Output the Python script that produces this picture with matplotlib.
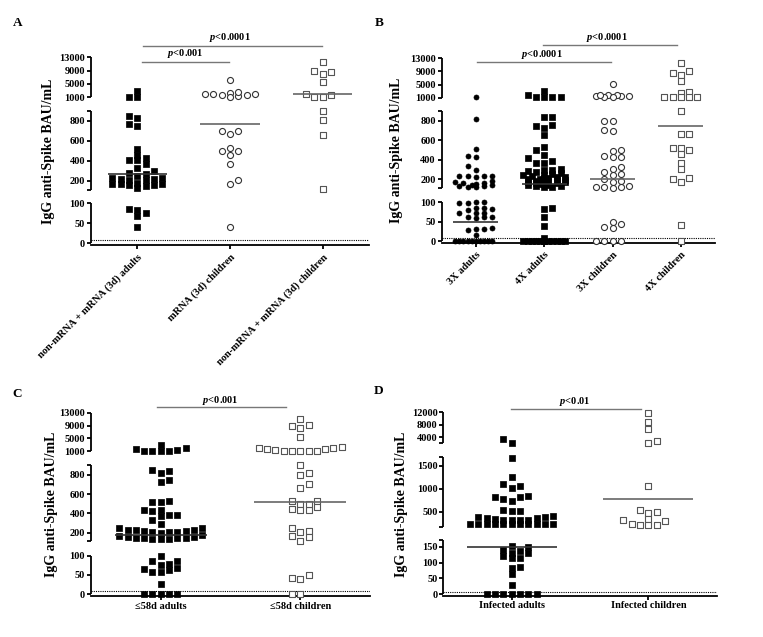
import numpy as np
import matplotlib.pyplot as plt

plt.rcParams['font.family'] = ['Liberation Serif', 'DejaVu Serif']
plt.rcParams['font.weight'] = 'bold'
plt.rcParams['mathtext.fontset'] = 'custom'
plt.rcParams['mathtext.it'] = 'Liberation Serif:italic:bold'
plt.rcParams['mathtext.rm'] = 'Liberation Serif:bold'

W, H = 763, 637

# -----------------------------
# Data (IgG anti-Spike, BAU/mL)
# -----------------------------
a_groups = ['non-mRNA + mRNA (3d) adults', 'mRNA (3d) children', 'non-mRNA + mRNA (3d) children']
a_adults = [2900, 1000, 1000, 850, 825, 765, 745, 520, 460, 425, 410, 405, 365, 330, 295, 280,
            270, 245, 230, 225, 220, 215, 210, 205, 175, 170, 165, 165, 160, 160, 150, 125,
            85, 82, 75, 67, 40]
a_mrna_children = [6000, 2000, 1500, 1300, 2200, 1100, 2600, 1500, 1800, 2000,
                   700, 665, 695, 525, 495, 455, 500, 365, 205, 165, 40]
a_mixed_children = [11500, 9000, 8000, 8700, 5400, 1500, 1100, 1100, 1800, 900, 810, 655, 120]
a_medians = [267, 767, 1900]

b_groups = ['3X adults', '4X adults', '3X children', '4X children']
b_3x_adults = [1100, 815, 510, 430, 435, 335, 290, 230, 220, 235, 235, 230,
               185, 170, 160, 156, 150, 140, 135, 130, 125, 120, 115,
               98, 100, 97, 100, 85, 80, 83, 85, 72, 72, 72, 63, 62, 60, 63,
               32, 33, 31, 30, 16, 0, 0, 0, 0, 0, 0, 0, 0, 0, 0]
b_4x_adults = [3100, 1300, 1200, 1200, 1800, 1100, 840, 835, 760, 745, 730, 650, 530, 500,
               450, 420, 385, 370, 365, 300, 295, 290, 285, 270, 260, 250, 245, 240, 235,
               225, 220, 215, 210, 205, 200, 195, 190, 185, 180, 175, 170, 165, 160, 155,
               150, 145, 140, 135, 130, 125, 120, 115, 85, 82, 63, 40, 8,
               0, 0, 0, 0, 0, 0, 0, 0, 0, 0, 0, 0, 0, 0]
b_3x_children = [5300, 1800, 1500, 1400, 1800, 1300, 1600, 1900, 1200, 800, 797, 700, 697,
                 490, 430, 430, 440, 495, 320, 300, 275, 250, 240, 200, 185, 165,
                 125, 118, 112, 115, 122, 50, 36, 35, 44, 0, 0, 0, 0]
b_4x_children = [11500, 8600, 9200, 7900, 6200, 2300, 2600, 1300, 1300, 1100, 1300, 1300,
                 900, 660, 660, 520, 455, 500, 520, 370, 300, 210, 165, 205, 42, 0]
b_medians = [50, 149, 197, 742]

c_groups = ['\u226458d adults', '\u226458d children']
c_adults = [3000, 1700, 1200, 1000, 1000, 1100, 1500, 2000,
            840, 850, 820, 750, 725, 530, 515, 520, 435, 420, 380, 385, 375, 430, 335, 290,
            245, 230, 225, 215, 210, 205, 200, 210, 215, 225, 250,
            165, 160, 150, 140, 135, 130, 135, 140, 150, 155, 175,
            78, 87, 86, 99, 67, 63, 57, 59, 65, 76, 26, 0, 0, 0, 0, 0]
c_children = [11000, 8900, 8100, 9200, 5400, 2400, 1900, 1600, 1200, 1100, 1100, 1100, 1200,
              1400, 1800, 1900, 900, 815, 800, 660, 700, 530, 530, 495, 465, 440, 430, 435,
              500, 245, 220, 210, 165, 160, 115, 50, 43, 40, 0, 0]
c_medians = [172, 515]

d_groups = ['Infected adults', 'Infected children']
d_adults = [3200, 2200, 1670, 1260, 1100, 1010, 1060, 830, 770, 735, 815, 850, 540, 520, 520,
            390, 370, 360, 350, 380, 400, 320, 310, 320, 310,
            225, 225, 225, 225, 225, 225, 225, 225, 225, 225, 225,
            135, 130, 115, 152, 113, 148, 122, 131, 140, 87, 84, 64, 29, 0, 0, 0, 0, 0, 0, 0]
d_children = [11700, 8800, 6500, 2600, 2200, 1060, 500, 465, 537, 330, 300, 215, 200, 215, 235, 310]
d_medians = [148, 785]

# -----------------------------
# Broken y-axis helpers
# -----------------------------
def piecewise(vals, us):
    v = np.asarray(vals, float)
    u = np.asarray(us, float)
    s0 = (u[1] - u[0]) / (v[1] - v[0])
    s1 = (u[-1] - u[-2]) / (v[-1] - v[-2])
    v = np.r_[v[0] - 1e4, v, v[-1] + 1e6]
    u = np.r_[u[0] - 1e4 * s0, u, u[-1] + 1e6 * s1]
    return (lambda x: np.interp(x, v, u)), (lambda y: np.interp(y, u, v))


def swarm(ax, values, max_px=50, dx_min=8.0, dy_min=5.5, step=4.15):
    # greedy beeswarm in pixel space, half-step candidate slots
    values = np.asarray(values, float)
    yp = ax.transData.transform(np.c_[np.zeros(len(values)), values])[:, 1]
    order = np.argsort(yp, kind='stable')
    nmax = int((max_px / 2) // step)
    offs = np.zeros(len(values))
    px, py = [], []
    for j, i in enumerate(order):
        sgn = 1 if j % 2 == 0 else -1
        cands = [0.0]
        for k in range(1, nmax + 1):
            cands += [sgn * k * step, -sgn * k * step]
        best, best_score = 0.0, -1.0
        for c in cands:
            score = np.inf
            for x0, y0 in zip(px, py):
                score = min(score, max(abs(c - x0) / dx_min, abs(yp[i] - y0) / dy_min))
            if score >= 1:
                best = c
                break
            if score > best_score:
                best, best_score = c, score
        offs[i] = best
        px.append(best)
        py.append(yp[i])
    px_per_unit = ax.transData.transform((1, 0))[0] - ax.transData.transform((0, 0))[0]
    return offs / px_per_unit


fig = plt.figure(figsize=(W / 100, H / 100), dpi=100)

filled_sq = dict(marker='s', s=14, facecolor='black', edgecolor='black', linewidths=0.5)
filled_ci = dict(marker='o', s=13, facecolor='black', edgecolor='black', linewidths=0.5)
open_ci = dict(marker='o', s=19, facecolor='white', edgecolor='#333333', linewidths=0.8)
open_sq = dict(marker='s', s=19, facecolor='white', edgecolor='#555555', linewidths=0.8)

std_breaks = [0, 100, 110, 900, 1000, 13000]
std_ticks = [0, 50, 100, 200, 400, 600, 800, 1000, 5000, 9000, 13000]

panels = [
    dict(letter='A', lpos=(18, 23), box=(91, 369, 243.3, 57.3),
         breaks=std_breaks, us=[0, 40.3, 53.6, 132.6, 146.3, 186], top=13000,
         ticks=std_ticks, caps=[110, 900], segs=[(0, 100), (110, 900), (1000, 13000)],
         groups=a_groups, series=[a_adults, a_mrna_children, a_mixed_children],
         styles=[filled_sq, open_ci, open_sq], medians=a_medians, hw=0.32,
         rot=True, label_x=-0.13, max_px=56,
         brackets=[(0.05, 0.99, 0.975, 0.52, 1.018, r'$p$<0.001'),
                   (0.06, 1.99, 1.060, 1.0, 1.104, r'$p$<0.0001')]),
    dict(letter='B', lpos=(379, 23), box=(441.7, 715, 241.3, 58.3),
         breaks=std_breaks, us=[0, 39, 53.5, 130.3, 143.6, 183], top=13000,
         ticks=std_ticks, caps=[110, 900], segs=[(0, 100), (110, 900), (1000, 13000)],
         groups=b_groups, series=[b_3x_adults, b_4x_adults, b_3x_children, b_4x_children],
         styles=[filled_ci, filled_sq, open_ci, open_sq], medians=b_medians, hw=0.33,
         rot=True, label_x=-0.14, max_px=42,
         brackets=[(0.015, 1.98, 0.978, 0.97, 1.018, r'$p$<0.0001'),
                   (0.98, 2.95, 1.070, 1.92, 1.112, r'$p$<0.0001')]),
    dict(letter='C', lpos=(17, 394), box=(91, 370, 594.3, 412.7),
         breaks=std_breaks, us=[0, 38.6, 52.9, 129.3, 143, 181.6], top=13000,
         ticks=std_ticks, caps=[110, 900], segs=[(0, 100), (110, 900), (1000, 13000)],
         groups=c_groups, series=[c_adults, c_children],
         styles=[filled_sq, open_sq], medians=c_medians, hw=0.33,
         rot=False, label_x=-0.12, max_px=84,
         brackets=[(-0.026, 0.90, 1.029, 0.43, 1.069, r'$p$<0.001')]),
    dict(letter='D', lpos=(379, 391), box=(443.3, 716.7, 594.3, 412.3),
         breaks=[0, 170, 175, 1700, 2000, 12000], us=[0, 53.9, 67.8, 137.5, 151.1, 182], top=12000,
         ticks=[0, 50, 100, 150, 500, 1000, 1500, 4000, 8000, 12000],
         caps=[170, 175, 1700, 2000], segs=[(0, 170), (175, 1700), (2000, 12000)],
         groups=d_groups, series=[d_adults, d_children],
         styles=[filled_sq, open_sq], medians=d_medians, hw=0.33,
         rot=False, label_x=-0.13, max_px=84,
         brackets=[(-0.007, 0.944, 1.018, 0.46, 1.057, r'$p$<0.01')]),
]

for p in panels:
    left, right, zero, top = p['box']
    fwd, inv = piecewise(p['breaks'], p['us'])
    ylo = -4
    bottom = zero - fwd(ylo)
    ax = fig.add_axes([left / W, 1 - bottom / H, (right - left) / W, (bottom - top) / H])
    ax.set_yscale('function', functions=(fwd, inv))
    n = len(p['groups'])
    ax.set_xlim(-0.5, n - 0.5)
    ax.set_ylim(ylo, p['top'])

    # axes frame: broken left axis drawn as segments
    for side in ['left', 'top', 'right']:
        ax.spines[side].set_visible(False)
    ax.spines['bottom'].set_linewidth(1.3)
    for lo, hi in p['segs']:
        ax.plot([0, 0], [lo, hi], transform=ax.get_yaxis_transform(), color='black',
                lw=1.3, clip_on=False, solid_capstyle='butt')
    ax.set_yticks(p['ticks'])
    ax.set_yticklabels([str(t) for t in p['ticks']])
    ax.set_yticks(p['caps'], minor=True)
    ax.tick_params(axis='y', which='both', direction='out', length=3.2, width=1.3, labelsize=7.5, pad=1)
    ax.tick_params(axis='x', direction='out', length=3.2, width=1.3, labelsize=7.5,
                   pad=2 if p['rot'] else 1)
    ax.set_xticks(range(n))
    if p['rot']:
        ax.set_xticklabels(p['groups'], rotation=45, ha='right', va='top', rotation_mode='anchor')
    else:
        ax.set_xticklabels(p['groups'])

    # detection limit
    ax.axhline(8, color='black', lw=0.8, ls=(0, (1, 1)), zorder=1)

    # points and medians
    for i, (vals, st) in enumerate(zip(p['series'], p['styles'])):
        dx = swarm(ax, vals, max_px=p['max_px'])
        ax.scatter(i + dx, vals, clip_on=False, zorder=3, **st)
        col = '#333333' if st['facecolor'] == 'black' else '#666666'
        ax.hlines(p['medians'][i], i - p['hw'], i + p['hw'], color=col, lw=1.2, zorder=4)

    # significance bars
    for x0, x1, yl, xt, yt, txt in p['brackets']:
        ax.plot([x0, x1], [yl, yl], transform=ax.get_xaxis_transform(), color='#777777',
                lw=1.0, clip_on=False)
        ax.text(xt, yt, txt, transform=ax.get_xaxis_transform(), ha='center', va='center',
                fontsize=7.5)

    ax.set_ylabel('IgG anti-Spike BAU/mL', fontsize=10, fontweight='bold')
    ax.yaxis.set_label_coords(p['label_x'], 0.5)

    fig.text(p['lpos'][0] / W, 1 - p['lpos'][1] / H, p['letter'], ha='center', va='center',
             fontsize=9.5, fontweight='bold')

fig.savefig('out.png', dpi=100)
